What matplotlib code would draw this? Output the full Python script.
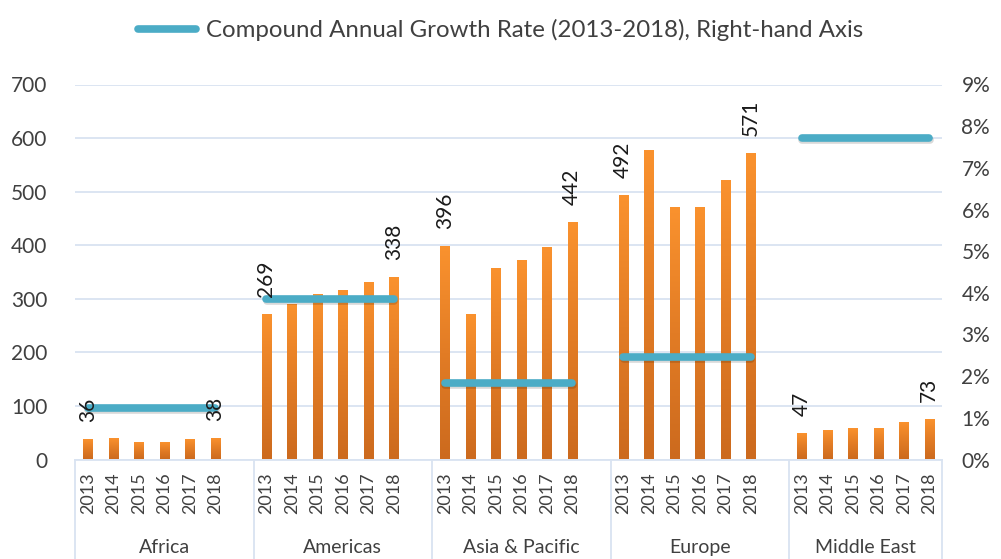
import numpy as np
import matplotlib
matplotlib.use("Agg")
import matplotlib.pyplot as plt
import matplotlib.patheffects as pe
from matplotlib.colors import LinearSegmentedColormap
from matplotlib.lines import Line2D
from matplotlib.ticker import PercentFormatter

plt.rcParams['font.family'] = ['Lato', 'DejaVu Sans']

regions = ['Africa', 'Americas', 'Asia & Pacific', 'Europe', 'Middle East']
years = ['2013', '2014', '2015', '2016', '2017', '2018']
africa = [36, 38, 31, 30, 36, 38]
americas = [269, 288, 307, 314, 329, 338]
asia_pacific = [396, 270, 356, 370, 394, 442]
europe = [492, 576, 469, 469, 520, 571]
middle_east = [47, 53, 57, 57, 68, 73]
cagr = [0.0124, 0.0386, 0.0183, 0.0247, 0.0772]

values = [africa, americas, asia_pacific, europe, middle_east]

text_col = '#404040'
grid_col = '#D9E3F1'
line_col = '#4BACC6'
bar_cmap = LinearSegmentedColormap.from_list('bar', ['#CC6A1E', '#E27C25', '#FA922E'])

fig = plt.figure(figsize=(10.01, 5.59), dpi=100)
ax = fig.add_axes([75/1001, 1 - 459.5/559, 867/1001, 375/559])
ax2 = ax.twinx()

step = len(years) + 1
bw = 0.36
grad = np.linspace(0, 1, 256).reshape(-1, 1)

for g, vals in enumerate(values):
    xs = [g * step + j for j in range(len(years))]
    for x, v in zip(xs, vals):
        ax.imshow(grad, cmap=bar_cmap, origin='lower', aspect='auto',
                  extent=[x - bw / 2, x + bw / 2, 0, v], zorder=2)
    # labels go on the top axes so they sit over the CAGR lines
    for k in (0, len(vals) - 1):
        ax2.annotate(str(vals[k]), (xs[k], vals[k]), xycoords=ax.transData,
                     xytext=(0, 13), textcoords='offset points', rotation=90,
                     ha='center', va='bottom', fontsize=15, color='#1a1a1a', zorder=5)
    ax2.plot([xs[0], xs[-1]], [cagr[g], cagr[g]], color=line_col, lw=5.5,
             solid_capstyle='round', zorder=3,
             path_effects=[pe.SimpleLineShadow(offset=(0.5, -1.5), alpha=0.15),
                           pe.Normal()])

n = step * len(regions) - 1
ax.set_xlim(-0.5, n - 0.5)
ax.set_ylim(0, 700)
ax2.set_ylim(0, 0.09)

ax.set_yticks(range(0, 701, 100))
ax2.set_yticks(np.arange(0, 0.091, 0.01))
ax2.yaxis.set_major_formatter(PercentFormatter(1.0, decimals=0))

ax.grid(axis='y', color=grid_col, lw=1.3)
ax.set_axisbelow(True)

ticks = [g * step + j for g in range(len(regions)) for j in range(len(years))]
ax.set_xticks(ticks)
ax.set_xticklabels(years * len(regions), rotation=90, fontsize=13, color=text_col)
ax.tick_params(axis='x', length=0, pad=9)
ax.tick_params(axis='y', length=0, pad=20, labelsize=15, labelcolor=text_col)
ax2.tick_params(axis='y', length=0, pad=14, labelsize=15, labelcolor=text_col)

for a in (ax, ax2):
    for s in a.spines.values():
        s.set_visible(False)

trans = ax.get_xaxis_transform()
ax.plot([-0.5, n - 0.5], [0, 0], color=grid_col, lw=1.3, transform=trans, clip_on=False)
for b in [g * step - 0.5 for g in range(len(regions))] + [n - 0.5]:
    ax.plot([b, b], [0, -0.3], color=grid_col, lw=1.3, transform=trans, clip_on=False)
for g, name in enumerate(regions):
    c = g * step + (len(years) - 1) / 2
    ax.text(c + (0.5 if g < len(regions) - 1 else 0), -0.235, name, transform=trans,
            ha='center', va='center', fontsize=14, color=text_col)

handle = Line2D([], [], color=line_col, lw=5.5, solid_capstyle='round')
fig.legend([handle], ['Compound Annual Growth Rate (2013-2018), Right-hand Axis'],
           loc='upper center', bbox_to_anchor=(0.5, 1.005), frameon=False,
           fontsize=17.3, handlelength=2.4, handletextpad=0.4, labelcolor=text_col)

fig.savefig('out.png', dpi=100)
